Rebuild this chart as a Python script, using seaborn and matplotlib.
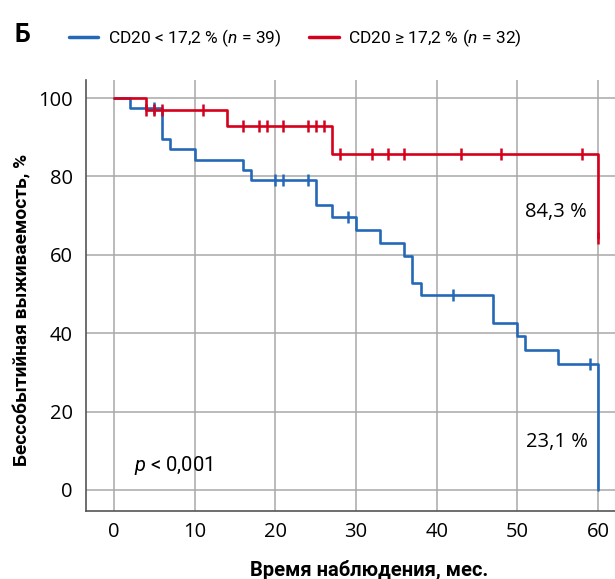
import numpy as np
import matplotlib
matplotlib.use("Agg")
import matplotlib.pyplot as plt
import seaborn as sns

# Kaplan-Meier curves (time in months, survival in %)
blue_label = "CD20 < 17,2 % ($n$ = 39)"
blue_times = [0, 2, 6, 7, 10, 16, 17, 25, 27, 30, 33, 36, 37, 38, 47, 50, 51, 55, 60]
blue_surv = [100, 97.4, 89.5, 86.9, 84.2, 81.6, 79.1, 72.7, 69.6, 66.3, 62.9, 59.7, 52.9, 49.7,
             42.7, 39.3, 35.7, 32.1, 0]
blue_censored = [5, 20, 21, 24, 29, 42, 59]

red_label = "CD20 ≥ 17,2 % ($n$ = 32)"
red_times = [0, 4, 14, 27, 60]
red_surv = [100, 96.9, 92.9, 85.7, 64.2]
red_censored = [4, 5, 6, 11, 16, 18, 19, 21, 24, 25, 26, 28, 32, 34, 36, 43, 48, 58, 60]

x_ticks = [0, 10, 20, 30, 40, 50, 60]
y_ticks = [0, 20, 40, 60, 80, 100]

blue = "#2468b8"
red = "#d5001c"

sns.set_style("white")
plt.rcParams["font.family"] = ["Roboto", "DejaVu Sans"]
plt.rcParams["mathtext.fontset"] = "custom"
plt.rcParams["mathtext.rm"] = "Roboto"
plt.rcParams["mathtext.it"] = "Roboto:italic"
for key in ["text.color", "axes.labelcolor", "xtick.color", "ytick.color"]:
    plt.rcParams[key] = "black"


def step_at(times, surv, t):
    i = np.searchsorted(times, t, side="right") - 1
    return surv[i]


fig = plt.figure(figsize=(6.15, 5.79), dpi=100)
ax = fig.add_axes([0.140, 0.1174, 0.860, 0.7444])

for times, surv, cens, col, lab in [(blue_times, blue_surv, blue_censored, blue, blue_label),
                                     (red_times, red_surv, red_censored, red, red_label)]:
    sns.lineplot(x=times, y=surv, drawstyle="steps-post", color=col, linewidth=1.9,
                 label=lab, ax=ax, zorder=3)
    cy = [step_at(times, surv, t) for t in cens]
    ax.plot(cens, cy, linestyle="none", marker="|", markersize=9, markeredgewidth=1.8,
            color=col, zorder=4)

ax.set_xlim(-3.45, 62.1)
ax.set_ylim(-5.4, 104.6)
ax.set_xticks(x_ticks)
ax.set_yticks(y_ticks)
ax.grid(True, color="#a8a8a8", linewidth=1.1)
ax.set_axisbelow(True)
for side in ["top", "right"]:
    ax.spines[side].set_visible(False)
for side in ["left", "bottom"]:
    ax.spines[side].set_color("#555555")
    ax.spines[side].set_linewidth(1.2)

ax.tick_params(axis="x", length=0, pad=8)
ax.tick_params(axis="y", direction="in", length=3, color="#555555", pad=9.5)
for lbl in ax.get_xticklabels() + ax.get_yticklabels():
    lbl.set_fontfamily(["Open Sans", "DejaVu Sans"])
    lbl.set_fontsize(14.5)

ax.set_xlabel("Время наблюдения, мес.", fontsize=14.5, fontweight="bold")
ax.set_ylabel("Бессобытийная выживаемость, %", fontsize=13.8, fontweight="bold")
ax.xaxis.set_label_coords(0.535, -0.137)
ax.xaxis.label.set_va("center")
ax.yaxis.set_label_coords(-0.121, 0.466)
ax.yaxis.label.set_va("center")

ax.text(54.8, 71, "84,3 %", fontsize=14.5, ha="center", va="center",
        family=["Open Sans", "DejaVu Sans"])
ax.text(54.85, 12.2, "23,1 %", fontsize=14.5, ha="center", va="center",
        family=["Open Sans", "DejaVu Sans"])
ax.text(2.5, 6.1, "$p$ < 0,001", fontsize=14.5, ha="left", va="center")

leg = ax.legend(loc="center left", bbox_to_anchor=(0.112, 0.934), bbox_transform=fig.transFigure,
                ncol=2, frameon=False, fontsize=12.5, handlelength=1.7, handletextpad=0.55,
                columnspacing=1.6, borderpad=0, borderaxespad=0)
for h in leg.get_lines():
    h.set_linewidth(2.5)

fig.text(0.024, 0.94, "Б", fontsize=18, fontweight="bold", ha="left", va="center")

fig.savefig("out.png", dpi=100)
